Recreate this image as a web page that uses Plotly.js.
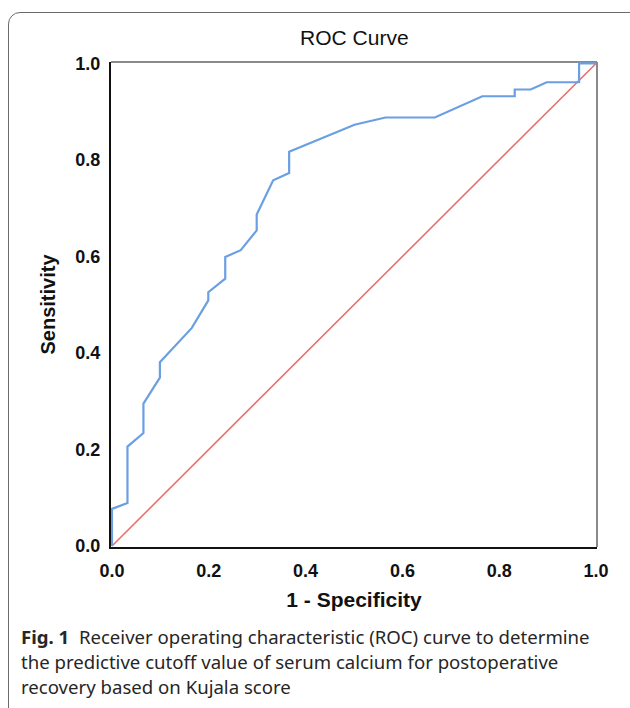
<!DOCTYPE html>
<html>
<head>
<meta charset="utf-8">
<script src="https://cdn.plot.ly/plotly-3.0.1.min.js"></script>
<style>
  html, body { margin: 0; padding: 0; background: #fff; }
  #wrap { position: relative; width: 630px; height: 708px; overflow: hidden; }
  #chart { position: absolute; left: 0; top: 0; width: 630px; height: 708px; }
  #frame { position: absolute; left: 8px; top: 12px; width: 640px; height: 740px;
           border: 1.5px solid #6b6b6b; border-radius: 12px; pointer-events: none; box-sizing: border-box; }
</style>
</head>
<body>
<div id="wrap">
  <div id="chart"></div>
  <div id="frame"></div>
</div>
<script>
// ROC curve points
const fpr = [0.000, 0.000, 0.032, 0.032, 0.065, 0.065, 0.099, 0.099, 0.165, 0.199, 0.199, 0.234, 0.234, 0.266, 0.299, 0.299, 0.333, 0.366, 0.366, 0.501, 0.565, 0.667, 0.765, 0.832, 0.832, 0.865, 0.898, 0.965, 0.965, 1.000];
const sensitivity = [0.000, 0.077, 0.089, 0.206, 0.234, 0.295, 0.349, 0.381, 0.452, 0.509, 0.526, 0.554, 0.599, 0.613, 0.654, 0.687, 0.758, 0.773, 0.817, 0.873, 0.888, 0.888, 0.932, 0.932, 0.946, 0.946, 0.961, 0.961, 1.000, 1.000];
const refX = [0, 1];
const refY = [0, 1];
const tickVals = [0, 0.2, 0.4, 0.6, 0.8, 1.0];
const tickText = ["0.0", "0.2", "0.4", "0.6", "0.8", "1.0"];
const chartTitle = "ROC Curve";
const xTitle = "1 - Specificity";
const yTitle = "Sensitivity";
const captionLines = [
  "<b>Fig. 1</b>  Receiver operating characteristic (ROC) curve to determine",
  "the predictive cutoff value of serum calcium for postoperative",
  "recovery based on Kujala score"
];

const traces = [
  { x: refX, y: refY, mode: "lines", line: { color: "#e8716b", width: 1.6 }, hoverinfo: "skip", showlegend: false },
  { x: fpr, y: sensitivity, mode: "lines", line: { color: "#6a9fe2", width: 2.2 }, showlegend: false }
];

const L = 111, R = 597, T = 62, B = 547;
const W = 630, H = 708;
const pw = R - L, ph = B - T;
function px2x(p) { return (p - L) / pw; }
function px2y(p) { return (B - p) / ph; }

const annotations = captionLines.map((t, i) => ({
  text: t, xref: "paper", yref: "paper", x: px2x(19), y: px2y(636 + i * 25.5),
  xanchor: "left", yanchor: "middle", showarrow: false,
  font: { family: "Noto Sans, sans-serif", size: 18.6, color: "#262626" }
}));

const tickFont = { family: "Liberation Sans, Arial, sans-serif", size: 18, color: "#111", weight: "bold" };

const layout = {
  width: W, height: H,
  margin: { l: L, r: W - R, t: T, b: H - B, pad: 0 },
  paper_bgcolor: "rgba(0,0,0,0)",
  plot_bgcolor: "#fff",
  title: { text: chartTitle, x: 0.5625, xanchor: "center", y: 1 - 38 / H, yanchor: "middle",
           font: { family: "Liberation Sans, Arial, sans-serif", size: 21, color: "#111" } },
  xaxis: {
    range: [-0.002, 1.002], tickvals: tickVals, ticktext: tickText, tickfont: tickFont,
    showgrid: false, zeroline: false, showline: true, linecolor: "#111", linewidth: 2,
    ticks: "", ticklabelstandoff: 6, fixedrange: true,
    title: { text: "<b>" + xTitle + "</b>", standoff: 13,
             font: { family: "Liberation Sans, Arial, sans-serif", size: 21, color: "#111" } }
  },
  yaxis: {
    range: [-0.002, 1.003], tickvals: tickVals, ticktext: tickText, tickfont: tickFont,
    showgrid: false, zeroline: false, showline: true, linecolor: "#111", linewidth: 2,
    ticks: "", ticklabelstandoff: 5, fixedrange: true,
    title: { text: "<b>" + yTitle + "</b>", standoff: 14,
             font: { family: "Liberation Sans, Arial, sans-serif", size: 20, color: "#111" } }
  },
  shapes: [
    { type: "line", xref: "paper", yref: "paper", x0: 0, x1: 1, y0: 1, y1: 1, line: { color: "#8a8a8a", width: 2 }, layer: "below" },
    { type: "line", xref: "paper", yref: "paper", x0: 1, x1: 1, y0: 0, y1: 1, line: { color: "#8a8a8a", width: 2 }, layer: "below" }
  ],
  annotations: annotations
};

Plotly.newPlot("chart", traces, layout, { displayModeBar: false, staticPlot: true });
</script>
</body>
</html>
